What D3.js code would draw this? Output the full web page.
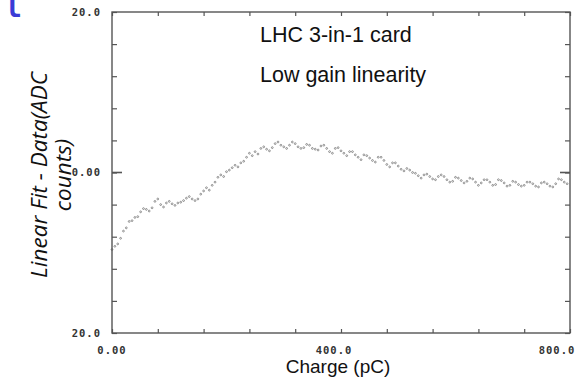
<!DOCTYPE html>
<html><head><meta charset="utf-8">
<script src="https://cdn.jsdelivr.net/npm/d3@7"></script>
<style>
html,body{margin:0;padding:0;background:#fff;}
svg{display:block;}
</style></head>
<body>
<svg id="c" width="586" height="380"></svg>
<script>
// ---- data ----
const chargeValues = [0,5,10,15,20,25,30,35,40,45,50,55,60,65,70,75,80,85,90,95,
100,105,110,115,120,125,130,135,140,145,150,155,160,165,170,175,180,185,190,195,
200,205,210,215,220,225,230,235,240,245,250,255,260,265,270,275,280,285,290,295,
300,305,310,315,320,325,330,335,340,345,350,355,360,365,370,375,380,385,390,395,
400,405,410,415,420,425,430,435,440,445,450,455,460,465,470,475,480,485,490,495,
500,505,510,515,520,525,530,535,540,545,550,555,560,565,570,575,580,585,590,595,
600,605,610,615,620,625,630,635,640,645,650,655,660,665,670,675,680,685,690,695,
700,705,710,715,720,725,730,735,740,745,750,755,760,765,770,775,780,785,790,795];
const residualValues = [-9.6,-9.2,-8.9,-8.2,-7.3,-6.9,-6.1,-6.0,-5.6,-5.5,-4.9,-4.5,-4.6,-4.8,-4.4,-3.6,-3.3,-4.0,-4.3,-3.8,
-3.6,-3.9,-4.1,-3.8,-3.7,-3.5,-3.2,-3.0,-3.3,-3.5,-3.3,-2.7,-2.3,-1.9,-2.2,-1.6,-1.2,-0.6,-0.3,-0.5,
0.1,0.3,0.6,0.9,0.7,1.2,1.4,1.9,2.4,2.1,2.6,2.3,3.0,3.2,2.9,2.7,3.1,3.6,3.8,3.4,
3.2,3.0,3.4,3.8,3.6,3.2,3.0,3.1,3.5,3.4,3.0,2.9,2.8,3.3,3.4,3.0,2.6,2.4,3.0,3.1,
2.7,2.4,2.1,2.6,2.6,2.2,1.9,1.6,2.2,2.1,1.8,1.5,1.3,1.9,1.9,1.5,1.0,0.7,1.2,1.2,
0.8,0.4,0.2,0.5,0.3,0.0,-0.1,-0.4,-0.7,-0.3,-0.2,-0.5,-0.8,-0.9,-0.5,-0.3,-0.5,-0.9,-1.2,-1.1,
-0.6,-0.7,-1.0,-1.3,-1.1,-0.7,-0.8,-1.2,-1.6,-1.3,-0.9,-0.9,-1.2,-1.6,-1.5,-0.9,-1.0,-1.3,-1.7,-1.6,
-1.1,-1.2,-1.5,-1.7,-1.6,-1.2,-1.2,-1.4,-1.7,-1.8,-1.3,-1.2,-1.4,-1.7,-1.8,-1.4,-0.8,-0.9,-1.2,-1.4];
const xTickValues = [0,80,160,240,320,400,480,560,640,720,800];
const yTickValues = [-20,-16,-12,-8,-4,0,4,8,12,16,20];
const xTickLabels = [{v:0,t:"0.00"},{v:400,t:"400.0"},{v:800,t:"800.0"}];
const yTickLabels = [{v:20,t:"20.0"},{v:0,t:"0.00"},{v:-20,t:"20.0"}];
const titleLines = ["LHC 3-in-1 card","Low gain linearity"];
const xTitle = "Charge (pC)";
const yTitleLines = ["Linear Fit - Data(ADC","counts)"];

// ---- drawing ----
const svg = d3.select("#c");
const L=112,R=570,T=12,B=333;
const x = d3.scaleLinear().domain([0,800]).range([L,R]);
const y = d3.scaleLinear().domain([-20,20]).range([B,T]);
const axCol="#555";

// blue fragment at top-left
svg.append("text").attr("x",5).attr("y",17).attr("font-family","DejaVu Sans Mono")
  .attr("font-weight","bold").attr("font-size",28).attr("fill","#3b3bd6").text("l");

// axes
const ax = (g)=>{g.select(".domain").remove(); g.selectAll(".tick line").attr("stroke",axCol).attr("stroke-width",1.2);};
svg.append("g").attr("transform",`translate(${L},0)`)
  .call(d3.axisLeft(y).tickValues(yTickValues).tickSizeInner(-5).tickSizeOuter(0).tickFormat(""))
  .call(ax).selectAll("text").remove();
svg.append("g").attr("transform",`translate(${R},0)`)
  .call(d3.axisRight(y).tickValues(yTickValues).tickSizeInner(-5).tickSizeOuter(0).tickFormat(""))
  .call(ax).selectAll("text").remove();
svg.append("g").attr("transform",`translate(0,${B})`)
  .call(d3.axisBottom(x).tickValues(xTickValues).tickSizeInner(-4).tickSizeOuter(0).tickFormat(""))
  .call(ax).selectAll("text").remove();
svg.append("g").attr("transform",`translate(0,${T})`)
  .call(d3.axisTop(x).tickValues(xTickValues).tickSizeInner(-4).tickSizeOuter(0).tickFormat(""))
  .call(ax).selectAll("text").remove();
// major zero ticks
svg.append("line").attr("x1",L).attr("x2",L+10).attr("y1",y(0)).attr("y2",y(0)).attr("stroke",axCol).attr("stroke-width",1.6);
svg.append("line").attr("x1",R-10).attr("x2",R).attr("y1",y(0)).attr("y2",y(0)).attr("stroke",axCol).attr("stroke-width",1.6);
// frame
svg.append("rect").attr("x",L).attr("y",T).attr("width",R-L).attr("height",B-T)
  .attr("fill","none").attr("stroke",axCol).attr("stroke-width",1.4);

// tick labels
const lblFont = "DejaVu Sans Mono";
svg.selectAll(".yl").data(yTickLabels).join("text").attr("class","yl")
  .attr("x",101).attr("y",d=>y(d.v)).attr("dy","0.36em").attr("text-anchor","end")
  .attr("font-family",lblFont).attr("font-size",10.5).attr("font-weight","bold")
  .attr("letter-spacing",1).attr("fill","#333").text(d=>d.t);
svg.selectAll(".xl").data(xTickLabels).join("text").attr("class","xl")
  .attr("x",d=>x(d.v)+(d.v===800?-13:(d.v===400?-7:0))).attr("y",354).attr("text-anchor","middle")
  .attr("font-family",lblFont).attr("font-size",10.5).attr("font-weight","bold")
  .attr("letter-spacing",1).attr("fill","#333").text(d=>d.t);

// data points
svg.append("g").selectAll("circle").data(chargeValues).join("circle")
  .attr("cx",(d)=>x(d)).attr("cy",(d,i)=>y(residualValues[i])).attr("r",0.9)
  .attr("fill","none").attr("stroke","#555").attr("stroke-width",0.6);

// titles
svg.append("text").attr("x",260).attr("y",42).attr("font-family","Liberation Sans").attr("font-size",21.5)
  .attr("fill","#111").text(titleLines[0]);
svg.append("text").attr("x",260).attr("y",82).attr("font-family","Liberation Sans").attr("font-size",21.5)
  .attr("fill","#111").text(titleLines[1]);
svg.append("text").attr("x",338).attr("y",373).attr("text-anchor","middle").attr("font-family","Liberation Sans")
  .attr("font-size",19).attr("fill","#111").text(xTitle);
const yt = svg.append("text").attr("transform","translate(47,175) rotate(-90)").attr("text-anchor","middle")
  .attr("font-family","Open Sans").attr("font-style","italic").attr("font-size",22.5).attr("fill","#111");
yt.append("tspan").attr("x",0).attr("dy",0).text(yTitleLines[0]);
yt.append("tspan").attr("x",0).attr("dy",24).text(yTitleLines[1]);
</script>
</body></html>
